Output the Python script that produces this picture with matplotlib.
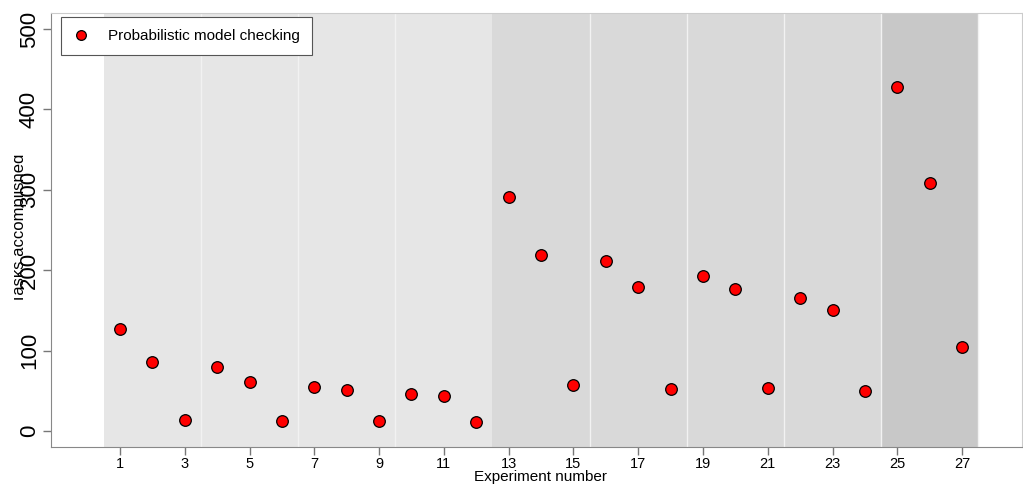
import matplotlib
matplotlib.use("Agg")
import matplotlib.pyplot as plt
from matplotlib.lines import Line2D
from matplotlib.transforms import Bbox

plt.rcParams['font.family'] = ['Liberation Sans', 'DejaVu Sans']

experiments = list(range(1, 28))
tasks = [127, 86, 14, 80, 61, 12, 55, 51, 12, 46, 44, 11,
         291, 219, 57, 211, 179, 52, 193, 177, 53, 165, 150, 50,
         428, 308, 104]
group_bounds = [(0.5, 12.5, '#e6e6e6'), (12.5, 24.5, '#d9d9d9'), (24.5, 27.5, '#c8c8c8')]
sep_lines = [3.5, 6.5, 9.5, 15.5, 18.5, 21.5, 24.5, 27.5]
xticks = list(range(1, 28, 2))
yticks = [0, 100, 200, 300, 400, 500]

W, H = 1023, 487
fig = plt.figure(figsize=(W / 100, H / 100), dpi=100)
ax = fig.add_axes([51/W, 1-447/H, (1022-51)/W, (447-13)/H])

for x0, x1, c in group_bounds:
    ax.axvspan(x0, x1, color=c, lw=0, zorder=0)
for s in sep_lines:
    ax.axvline(s, color='#f2f2f2', lw=1, zorder=1)

ax.scatter(experiments, tasks, s=70, c='red', edgecolors='black', linewidths=0.9, zorder=3)

ax.set_xlim(-1.13, 28.85)
ax.set_ylim(-20, 520)
ax.set_xticks(xticks)
ax.set_xticklabels([str(t) for t in xticks], fontsize=10.5)
ax.set_yticks(yticks)
ax.set_yticklabels([str(t) for t in yticks], fontsize=16, rotation=90, va='center')
ax.tick_params(axis='both', direction='out', length=6, color='#777777', width=1)
ax.tick_params(axis='x', pad=1)
ax.tick_params(axis='y', pad=2)

for side in ['left', 'bottom']:
    ax.spines[side].set_color('#888888')
for side in ['top', 'right']:
    ax.spines[side].set_color('#cccccc')

ax.set_xlabel('Experiment number', fontsize=11, labelpad=0)
ax.xaxis.set_label_coords((541 - 51) / (1022 - 51), -0.054)

ylab = fig.text(24/W, 1 - 228/H, 'Tasks accomplished', rotation=90, fontsize=12,
                va='baseline', ha='center', rotation_mode='anchor')
ylab.set_clip_box(Bbox([[14, 0], [200, H]]))
ylab.set_clip_on(True)

handle = Line2D([], [], marker='o', ls='', markerfacecolor='red', markeredgecolor='black',
                markersize=7, markeredgewidth=0.9)
leg = ax.legend([handle], ['Probabilistic model checking'], loc='upper left',
                bbox_to_anchor=(10/971, 1 - 4/434), borderaxespad=0, fontsize=11,
                frameon=True, fancybox=False, edgecolor='#555555', framealpha=1,
                borderpad=0.8, handlelength=1.0, handletextpad=1.3)
leg.get_frame().set_linewidth(0.8)

fig.savefig('out.png', dpi=100)
